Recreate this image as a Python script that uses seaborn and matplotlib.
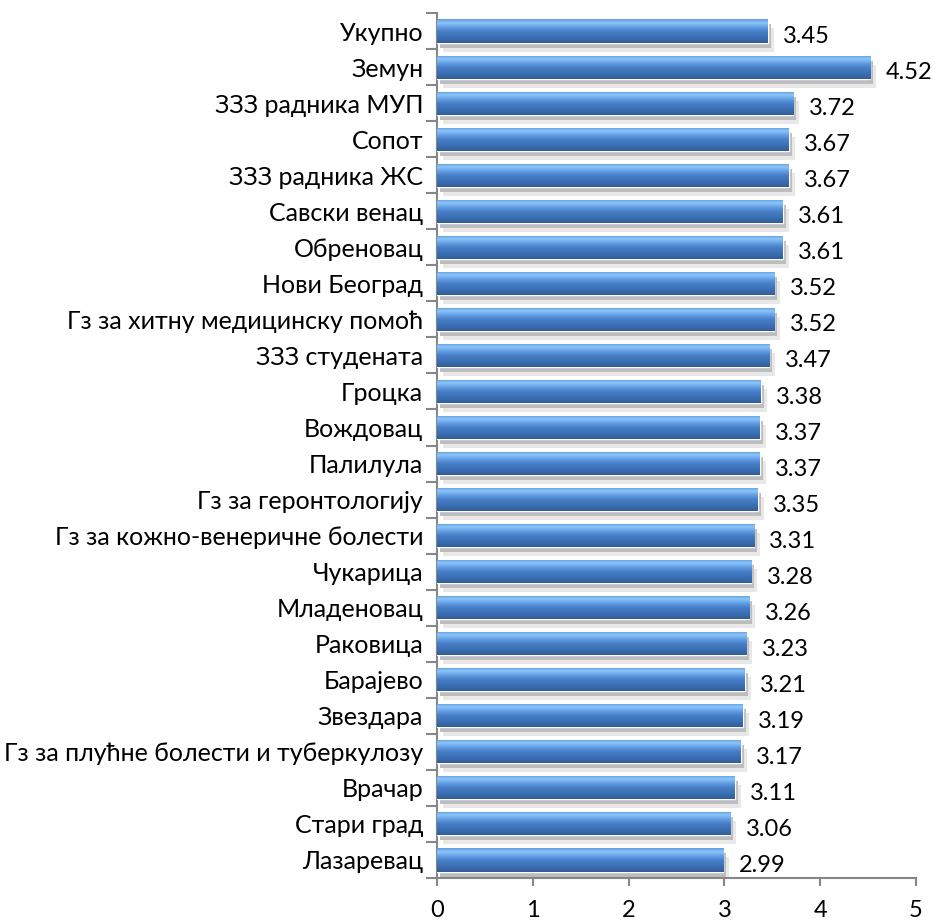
import numpy as np
import pandas as pd
import matplotlib
matplotlib.use("Agg")
import matplotlib.pyplot as plt
import matplotlib.transforms as mtransforms
from matplotlib.colors import LinearSegmentedColormap
from matplotlib.patches import Rectangle
import seaborn as sns

# Data (top to bottom)
categories = [
    "Укупно", "Земун", "ЗЗЗ радника МУП", "Сопот", "ЗЗЗ радника ЖС",
    "Савски венац", "Обреновац", "Нови Београд", "Гз за хитну медицинску помоћ",
    "ЗЗЗ студената", "Гроцка", "Вождовац", "Палилула", "Гз за геронтологију",
    "Гз за кожно-венеричне болести", "Чукарица", "Младеновац", "Раковица",
    "Барајево", "Звездара", "Гз за плућне болести и туберкулозу", "Врачар",
    "Стари град", "Лазаревац",
]
scores = [
    3.45, 4.52, 3.72, 3.67, 3.67, 3.61, 3.61, 3.52, 3.52, 3.47, 3.38, 3.37,
    3.37, 3.35, 3.31, 3.28, 3.26, 3.23, 3.21, 3.19, 3.17, 3.11, 3.06, 2.99,
]
x_ticks = [0, 1, 2, 3, 4, 5]

df = pd.DataFrame({"category": categories, "score": scores})

sns.set_theme(style="white")
plt.rcParams['font.family'] = ['Lato', 'DejaVu Sans']
plt.rcParams['text.color'] = 'black'
plt.rcParams['xtick.color'] = 'black'
plt.rcParams['ytick.color'] = 'black'

fig = plt.figure(figsize=(9.35, 9.22), dpi=100)
ax = fig.add_axes([0.4674, 0.0477, 0.5123, 0.9382])

sns.barplot(data=df, x="score", y="category", orient="h", width=0.64,
            color="#4A86CC", ax=ax, zorder=3)

# Excel-like glossy gradient (top light -> bottom dark)
grad_cmap = LinearSegmentedColormap.from_list(
    "glossy", [(0.0, "#5C9BE2"), (0.15, "#8EC6F7"), (0.3, "#6AA6EA"),
               (0.5, "#4881CA"), (0.8, "#3A6DAF"), (1.0, "#325E9A")])
grad = np.linspace(0, 1, 64).reshape(-1, 1)

shadow_dark = mtransforms.offset_copy(ax.transData, fig=fig, x=3, y=-5, units="dots")
shadow_light = mtransforms.offset_copy(ax.transData, fig=fig, x=6, y=-9, units="dots")

for patch in list(ax.patches):
    x0, y0 = patch.get_x(), patch.get_y()
    w, h = patch.get_width(), patch.get_height()
    # soft grey shadow underneath
    ax.add_patch(Rectangle((x0, y0), w, h, transform=shadow_light,
                           facecolor="#E8E8E8", edgecolor="none", zorder=1))
    ax.add_patch(Rectangle((x0, y0), w, h, transform=shadow_dark,
                           facecolor="#BDBDBD", edgecolor="none", zorder=2))
    img = ax.imshow(grad, cmap=grad_cmap, aspect="auto",
                    extent=(x0, x0 + w, y0 + h, y0), zorder=4,
                    interpolation="bicubic")
    img.set_clip_path(patch)

for i, v in enumerate(scores):
    ax.annotate(f"{v:.2f}", xy=(v, i), xytext=(11, -4), textcoords="offset points",
                ha="left", va="center", fontsize=17, color="black")

ax.set_xlim(0, 5)
ax.set_ylim(len(categories) - 0.5, -0.5)
ax.set_xticks(x_ticks)
ax.set_xticklabels([str(t) for t in x_ticks], fontsize=17)

# category axis: ticks at boundaries, labels at centres
ax.set_yticks(np.arange(-0.5, len(categories), 1.0))
ax.set_yticklabels([])
ax.set_yticks(np.arange(len(categories)), minor=True)
ax.set_yticklabels(categories, minor=True, fontsize=18)
ax.tick_params(axis="y", which="major", direction="out", length=8, width=1.5,
               color="#868686", left=True)
ax.tick_params(axis="y", which="minor", length=0, pad=10, left=True)
ax.tick_params(axis="x", direction="out", length=6, width=1.5, color="#868686",
               bottom=True, pad=10)

ax.set_xlabel("")
ax.set_ylabel("")
for side in ["top", "right"]:
    ax.spines[side].set_visible(False)
for side in ["left", "bottom"]:
    ax.spines[side].set_color("#868686")
    ax.spines[side].set_linewidth(1.5)
ax.grid(False)

fig.savefig("out.png", dpi=100)
